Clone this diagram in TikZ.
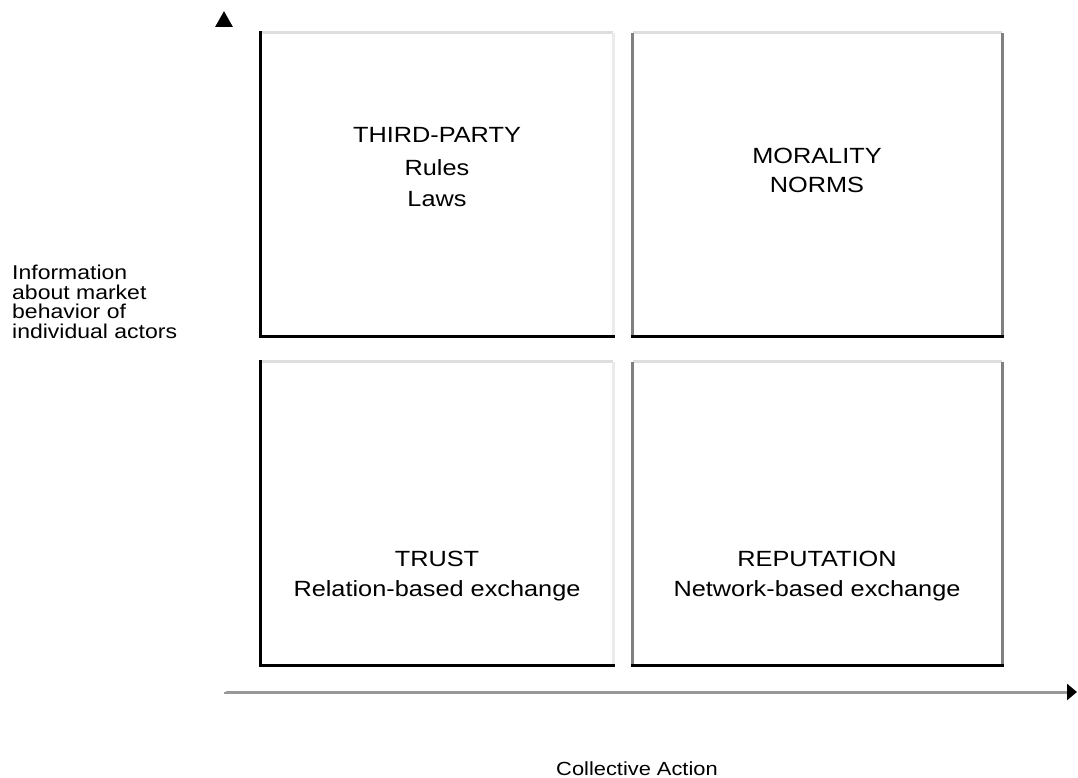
\documentclass[tikz,border=0pt]{standalone}
\usepackage{fontspec}
\setmainfont[FakeStretch=1.15]{Liberation Sans}
\usetikzlibrary{arrows.meta}
\begin{document}
\begin{tikzpicture}[x=1pt,y=-1pt,
  quad/.style={draw=none, minimum height=303pt, inner sep=0pt},
  dark/.style={line width=3pt, black, line cap=rect},
  mid/.style={line width=3pt, black!50},
  pale/.style={line width=3pt, black!13},
  faint/.style={line width=3pt, black!8},
  big/.style={font=\fontsize{22}{26}\selectfont, anchor=base, inner sep=0pt},
  small/.style={font=\fontsize{20}{22}\selectfont, anchor=base west, inner sep=0pt},
  axis/.style={line width=3pt, black!40}
]
\useasboundingbox (0,0) rectangle (1078,778);
% quadrants
\node[quad, minimum width=352pt] (tl) at (437,184.5) {};
\node[quad, minimum width=369pt] (tr) at (817.5,184.5) {};
\node[quad, minimum width=352pt] (bl) at (437,513.5) {};
\node[quad, minimum width=369pt] (br) at (817.5,513.5) {};
% top-left
\draw[pale] (tl.north west) -- (tl.north east);
\draw[faint] (tl.north east) -- (tl.south east);
\draw[dark] (tl.north west) -- (tl.south west) -- (tl.south east);
% top-right
\draw[pale] (tr.north west) -- (tr.north east);
\draw[mid] (tr.north west) -- (tr.south west);
\draw[mid] (tr.north east) -- (tr.south east);
\draw[dark] (tr.south west) -- (tr.south east);
% bottom-left
\draw[pale] (bl.north west) -- (bl.north east);
\draw[faint] (bl.north east) -- (bl.south east);
\draw[dark] (bl.north west) -- (bl.south west) -- (bl.south east);
% bottom-right
\draw[pale] (br.north west) -- (br.north east);
\draw[mid] (br.north west) -- (br.south west);
\draw[mid] (br.north east) -- (br.south east);
\draw[dark] (br.south west) -- (br.south east);
% axes
\coordinate (o) at (224,692);
\coordinate (xend) at (1077,692);
\coordinate (ystart) at (224,692);
\coordinate (yend) at (224,11);
\draw[axis, -{Triangle[black, length=10pt, width=16pt]}] (o) -- (xend);
\draw[line width=3pt, white, -{Triangle[black, length=16pt, width=17pt]}] (ystart) -- (yend);
% texts
\node[big] (t1) at (437,143) {THIRD-PARTY};
\node[big] (t2) at (437,176) {Rules};
\node[big] (t3) at (437,206) {Laws};
\node[big] (m1) at (817,164) {MORALITY};
\node[big] (m2) at (817,193) {NORMS};
\node[big] (b1) at (437,566) {TRUST};
\node[big] (b2) at (437,596) {Relation-based exchange};
\node[big] (r1) at (817,566) {REPUTATION};
\node[big] (r2) at (817,596) {Network-based exchange};
\node[small] (y1) at (12,279) {Information};
\node[small] (y2) at (12,299) {about market};
\node[small] (y3) at (12,318) {behavior of};
\node[small] (y4) at (12,338) {individual actors};
\node[font=\fontsize{19}{22}\selectfont, anchor=base, inner sep=0pt] (xl) at (637,775) {Collective Action};
\end{tikzpicture}
\end{document}
